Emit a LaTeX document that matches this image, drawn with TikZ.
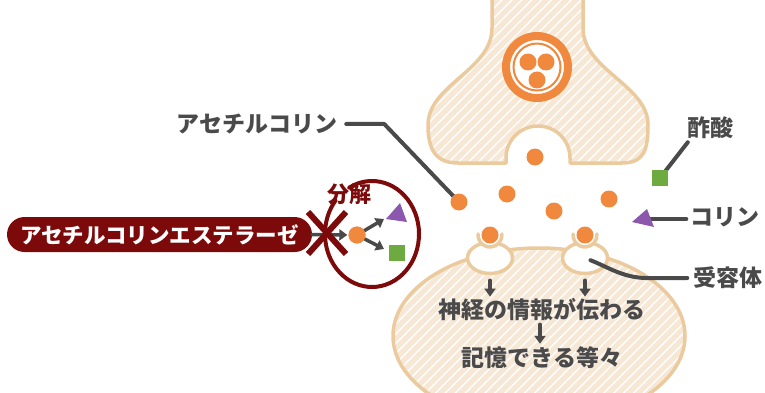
\documentclass[tikz,border=0pt]{standalone}
\usepackage{fontspec}
\usetikzlibrary{arrows.meta,shapes.geometric,patterns.meta}
\newfontfamily\jp{Noto Sans CJK JP}
\definecolor{ach}{HTML}{F0883E}
\definecolor{cellfill}{HTML}{F7E8D6}
\definecolor{rim}{HTML}{EBCB9E}
\definecolor{ink}{HTML}{4A4A4A}
\definecolor{enz}{HTML}{7D0A0A}
\definecolor{acid}{HTML}{6DAA3F}
\definecolor{chol}{HTML}{8B58AE}

\begin{document}
\begin{tikzpicture}[x=1pt,y=-1pt,line cap=round,line join=round]
    \tikzstyle{every node}=[inner sep=1pt]
    \tikzstyle{tag}=[text=ink,font=\jp\bfseries\fontsize{23}{23}\selectfont]
    \tikzstyle{mol}=[circle,fill=ach,inner sep=0pt,minimum size=17pt]
    \tikzstyle{lead}=[draw=ink,line width=4pt]
    \tikzstyle{flow}=[draw=ink,line width=3.5pt,-{Triangle[length=8pt,width=11pt]}]
    \tikzstyle{cell}=[draw=rim,line width=3.5pt,preaction={fill=cellfill},preaction={pattern={Lines[angle=45,distance=7pt,line width=1.4pt]},pattern color=white}]
    \tikzstyle{receptor}=[ellipse,draw=rim,fill=white,line width=3.5pt,minimum width=45pt,minimum height=31pt]
    \tikzstyle{cup}=[circle,fill=white,inner sep=0pt,minimum size=24pt]
    \path[use as bounding box] (0,0) rectangle (765,393);
    % presynaptic terminal with vesicle
    \path[cell] (492,-5) -- (492,28) .. controls (492,70) and (428,85) .. (428,125) .. controls (428,150) and (436,163) .. (458,163) -- (506,163) -- (506,158) arc(180:360:32) -- (570,163) -- (622,163) .. controls (644,163) and (648,150) .. (648,125) .. controls (648,85) and (583,70) .. (583,28) -- (583,-5);
    \node[circle,draw=ach,fill=white,line width=8pt,minimum size=62pt] (vesicle) at (537,67) {};
    \draw[ach,line width=2pt] (vesicle) circle (23.5);
    \node[mol] (v1) at (528,62) {};
    \node[mol] (v2) at (546,62) {};
    \node[mol] (v3) at (537,80) {};
    % postsynaptic side and receptors
    \path[cell] (539,336) ellipse (146 and 88);
    \node[receptor] (rc1) at (490,258) {};
    \node[receptor] (rc2) at (585,258) {};
    \node[cup] (cup1) at (490,235) {};
    \node[cup] (cup2) at (585,235) {};
    \draw[rim,line width=3.5pt] (cup1) ++(-5:12) arc(-5:185:12);
    \draw[rim,line width=3.5pt] (cup2) ++(-5:12) arc(-5:185:12);
    % labels
    \node[tag] (achlabel) at (257,124) {アセチルコリン};
    \node[tag] (acetlabel) at (710,128) {酢酸};
    \node[tag] (chollabel) at (725,217) {コリン};
    \node[tag] (reclabel) at (728,278) {受容体};
    \node[tag] (info) at (542,310) {神経の情報が伝わる};
    \node[tag] (memory) at (542,358) {記憶できる等々};
    % released acetylcholine
    \coordinate (acetate) at (660,178);
    \coordinate (choline) at (646,219);
    \draw[lead] ([xshift=8pt]achlabel.east) -- ++(38,0) -- (459,202);
    \draw[lead] ([xshift=2pt,yshift=-2pt]acetlabel.south west) -- (acetate);
    \draw[lead] ([xshift=-3pt,yshift=-2pt]chollabel.west) -- (choline);
    \draw[lead,shorten >=6pt] ([xshift=-5pt]reclabel.west) -- ++(-36,0) .. controls (625,279) and (610,268) .. (rc2.center);
    \node[mol] (a1) at (535,157) {};
    \node[mol] (a2) at (459,202) {};
    \node[mol] (a3) at (507,194) {};
    \node[mol] (a4) at (554,211) {};
    \node[mol] (a5) at (609,199) {};
    \node[mol] (r1) at (cup1) {};
    \node[mol] (r2) at (cup2) {};
    \fill[acid] (acetate) +(-8,-8) rectangle +(8,8);
    \fill[chol] (choline) ++(-14,3) -- ++(15,-13) -- ++(7,18) -- cycle;
    \draw[flow,shorten <=5pt,shorten >=1pt] (rc1.south) -- (rc1.south |- info.north);
    \draw[flow,shorten <=5pt,shorten >=1pt] (rc2.south) -- (rc2.south |- info.north);
    \draw[flow,shorten <=2pt,shorten >=2pt] (info.south -| 540,0) -- (memory.north -| 540,0);
    % esterase breaking it down
    \node[fill=enz,text=white,rounded corners=17.5pt,minimum width=305pt,minimum height=35pt,font=\jp\bfseries\fontsize{21.5}{21.5}\selectfont] (esterase) at (159.5,234.5) {アセチルコリンエステラーゼ};
    \coordinate (pocket) at (372,234);
    \draw[enz,line width=4pt] ([shift={(-119:47 and 53)}]pocket) arc[start angle=-119,end angle=219,x radius=47,y radius=53];
    \node[text=enz,font=\jp\bfseries\fontsize{22}{22}\selectfont] (split) at (349,194) {分解};
    \node[mol] (e0) at (357,235) {};
    \coordinate (e1) at (384,219);
    \coordinate (e2) at (384,249);
    \draw[flow,shorten >=1pt] (esterase.east) -- (e0.west);
    \draw[flow] (e0) -- (e1);
    \draw[flow] (e0) -- (e2);
    \node[mol] at (e0) {};
    \coordinate (cut) at (327,233);
    \draw[enz,line width=6pt,line cap=butt] (cut) ++(-19,-21) -- ++(38,42) (cut) ++(19,-21) -- ++(-38,42);
    \fill[chol] (386,219) -- (400,203) -- (407,222) -- cycle;
    \fill[acid] (389,245) rectangle (405,261);
\end{tikzpicture}
\end{document}
